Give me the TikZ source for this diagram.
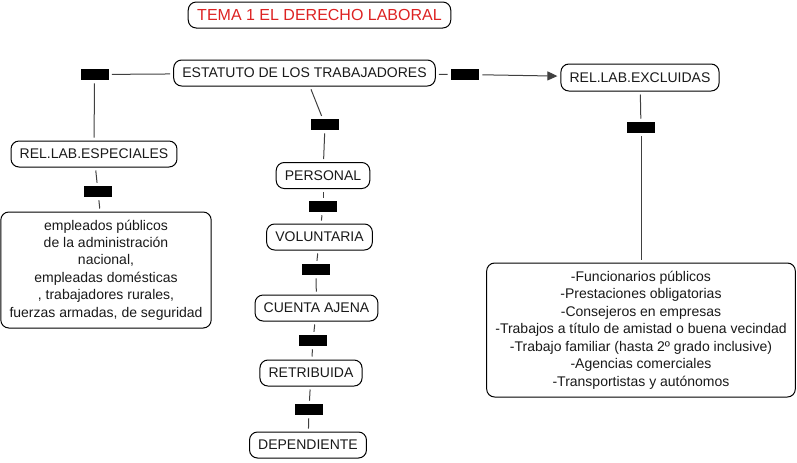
\documentclass[tikz,border=0pt]{standalone}
\usepackage{fontspec}
\setmainfont{Liberation Sans}
\usepackage{tikz}
\usetikzlibrary{arrows.meta}

\tikzset{
  concept/.style={draw=black,line width=0.75pt,rounded corners=6pt,inner xsep=6.5pt,inner ysep=0pt,minimum height=19.5pt,align=center,text=black!90,font=\fontsize{10.5pt}{13.1pt}\selectfont},
  linker/.style={fill=black,draw=none,minimum width=21pt,minimum height=8.25pt,inner sep=0pt},
  conn/.style={draw=black!75,line width=0.75pt,shorten <=2.25pt,shorten >=2.25pt}
}

\begin{document}
\begin{tikzpicture}[x=0.75pt,y=0.75pt,yscale=-1,xscale=1]
        \useasboundingbox (0,0) rectangle (797,462);
        % title
        \draw (319.5,15) node [concept,inner xsep=6.75pt,font=\fontsize{12pt}{14pt}\selectfont,text={rgb,255:red,221;green,34;blue,34}] (title) {TEMA 1 EL DERECHO LABORAL};
        % main concepts
        \draw (304.5,73) node [concept] (est) {ESTATUTO DE LOS TRABAJADORES};
        \draw (640,77.5) node [concept,minimum height=20.25pt] (excl) {REL.LAB.EXCLUIDAS};
        \draw (94,154) node [concept] (esp) {REL.LAB.ESPECIALES};
        \draw (106,270) node [concept,minimum width=156pt,minimum height=87pt] (esplist) {empleados públicos\\de la administración\\nacional,\\empleadas domésticas\\, trabajadores rurales,\\fuerzas armadas, de seguridad};
        \draw (641,330) node [concept,minimum width=231pt,minimum height=100.5pt] (excllist) {-Funcionarios públicos\\-Prestaciones obligatorias\\-Consejeros en empresas\\-Trabajos a título de amistad o buena vecindad\\-Trabajo familiar (hasta 2º grado inclusive)\\-Agencias comerciales\\-Transportistas y autónomos};
        % chain
        \draw (323,175.5) node [concept] (pers) {PERSONAL};
        \draw (319.5,237) node [concept] (vol) {VOLUNTARIA};
        \draw (316.5,308) node [concept] (cta) {CUENTA AJENA};
        \draw (311,373) node [concept] (retr) {RETRIBUIDA};
        \draw (308,445) node [concept] (dep) {DEPENDIENTE};
        % linking phrases
        \draw (94.5,74.5) node [linker] (lkesp) {};
        \draw (465,74.5) node [linker] (lkexcl) {};
        \draw (641,127.5) node [linker] (lkexcllist) {};
        \draw (98,191.5) node [linker] (lkesplist) {};
        \draw (325,124.5) node [linker] (lkpers) {};
        \draw (323,206.5) node [linker] (lkvol) {};
        \draw (316,269.5) node [linker] (lkcta) {};
        \draw (313,340.5) node [linker] (lkretr) {};
        \draw (309,409.5) node [linker] (lkdep) {};
        % connectors
        \draw [conn] (est) -- (lkesp);
        \draw [conn] (lkesp) -- (esp);
        \draw [conn] (esp) -- (lkesplist);
        \draw [conn] (lkesplist) -- (esplist);
        \draw [conn] (est) -- (lkexcl);
        \draw [conn,-{Triangle[length=7.5pt,width=6.75pt]}] (lkexcl) -- (excl);
        \draw [conn] (excl) -- (lkexcllist);
        \draw [conn] (lkexcllist) -- (excllist);
        \draw [conn] (est) -- (lkpers);
        \draw [conn] (lkpers) -- (pers);
        \draw [conn] (pers) -- (lkvol);
        \draw [conn] (lkvol) -- (vol);
        \draw [conn] (vol) -- (lkcta);
        \draw [conn] (lkcta) -- (cta);
        \draw [conn] (cta) -- (lkretr);
        \draw [conn] (lkretr) -- (retr);
        \draw [conn] (retr) -- (lkdep);
        \draw [conn] (lkdep) -- (dep);
\end{tikzpicture}
\end{document}
